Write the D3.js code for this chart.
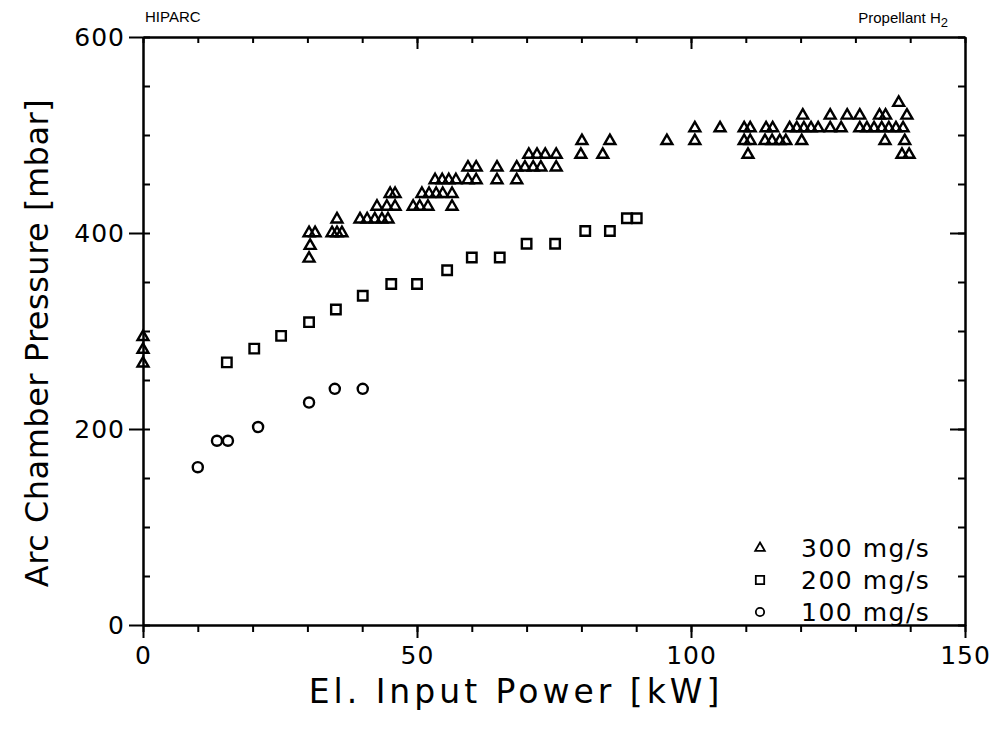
<!DOCTYPE html>
<html>
<head>
<meta charset="utf-8">
<script src="https://cdn.jsdelivr.net/npm/d3@7"></script>
<style>
  body { margin: 0; background: #fff; }
  svg { display: block; }
  text { font-family: "DejaVu Sans", sans-serif; fill: #000; }
</style>
</head>
<body>
<div id="chart"></div>
<script>
// measured data: [power kW, pressure mbar]
const flow300 = [
  [0, 295], [0, 282], [0, 268],
  [30.3, 375], [30.5, 388], [30.3, 401], [31.4, 401], [34.5, 401], [35.4, 401], [36.3, 401],
  [35.4, 415], [39.6, 415], [40.9, 415], [42.3, 415], [43.6, 415], [44.7, 415],
  [42.7, 428], [44.5, 428], [46.0, 428], [49.3, 428], [50.5, 428], [52.0, 428], [56.4, 428],
  [45.1, 441], [46.0, 441], [50.9, 441], [52.2, 441], [53.5, 441], [54.7, 441], [56.4, 441],
  [53.3, 455], [54.6, 455], [55.8, 455], [57.1, 455], [59.3, 455], [60.8, 455], [64.6, 455], [68.2, 455],
  [59.3, 468], [60.8, 468], [64.6, 468], [68.2, 468], [69.7, 468], [71.2, 468], [72.6, 468], [75.4, 468],
  [70.4, 481], [71.9, 481], [73.4, 481], [75.4, 481], [79.9, 481], [83.9, 481], [110.4, 481], [138.5, 481], [139.8, 481],
  [80.1, 495], [85.2, 495], [95.6, 495], [100.7, 495], [109.7, 495], [110.8, 495], [113.5, 495], [114.8, 495],
  [116.2, 495], [117.3, 495], [120.2, 495], [135.4, 495], [139.0, 495],
  [100.7, 508], [105.3, 508], [109.7, 508], [110.8, 508], [113.7, 508], [114.9, 508], [118.0, 508], [119.3, 508],
  [120.6, 508], [121.9, 508], [123.2, 508], [125.4, 508], [127.4, 508], [130.8, 508], [132.1, 508], [133.4, 508],
  [134.8, 508], [136.1, 508], [137.4, 508], [138.7, 508],
  [120.4, 521], [125.4, 521], [128.5, 521], [130.8, 521], [134.4, 521], [135.5, 521], [139.4, 521],
  [137.9, 534]
];
const flow200 = [
  [15.3, 268], [20.3, 282], [25.2, 295], [30.3, 309], [35.2, 322], [40.1, 336], [45.3, 348], [50, 348],
  [55.5, 362], [60, 375], [65.1, 375], [70, 389], [75.2, 389], [80.7, 402], [85.2, 402], [88.3, 415], [90.1, 415]
];
const flow100 = [
  [10, 161], [13.5, 188], [15.5, 188], [21, 202], [30.3, 227], [35, 241], [40.1, 241]
];
const legendLabels = ["300 mg/s", "200 mg/s", "100 mg/s"];
const xMajor = [0, 50, 100, 150];
const xMinor = d3.range(0, 151, 10);
const yMajor = [0, 200, 400, 600];
const yMinor = d3.range(0, 601, 50);

const width = 994, height = 730;
const plotLeft = 143, plotRight = 965, plotTop = 37, plotBottom = 625;

const svg = d3.select("#chart").append("svg")
    .attr("width", width)
    .attr("height", height);

const x = d3.scaleLinear().domain([0, 150]).range([plotLeft, plotRight]);
const y = d3.scaleLinear().domain([0, 600]).range([plotBottom, plotTop]);

function styleAxis(g) {
    g.select(".domain").attr("stroke", "#000").attr("stroke-width", 2);
    g.selectAll(".tick line").attr("stroke", "#000").attr("stroke-width", 2);
    g.selectAll(".tick text").style("font-size", "25px").style("letter-spacing", "1px").attr("fill", "#000");
}

// top axis, ticks pointing down into the plot
svg.append("g").attr("transform", "translate(0," + plotTop + ")")
    .call(d3.axisBottom(x).tickValues(xMinor).tickSize(6).tickFormat("").tickSizeOuter(0))
    .call(styleAxis);
svg.append("g").attr("transform", "translate(0," + plotTop + ")")
    .call(d3.axisBottom(x).tickValues([50, 100]).tickSize(12).tickFormat("").tickSizeOuter(0))
    .call(styleAxis);

// bottom axis
svg.append("g").attr("transform", "translate(0," + plotBottom + ")")
    .call(d3.axisBottom(x).tickValues(xMinor).tickSize(7).tickFormat("").tickSizeOuter(0))
    .call(styleAxis);
svg.append("g").attr("transform", "translate(0," + plotBottom + ")")
    .call(d3.axisBottom(x).tickValues(xMajor).tickSize(13).tickPadding(8).tickSizeOuter(0))
    .call(styleAxis);

// left axis: minor ticks inside, major ticks outside with labels
svg.append("g").attr("transform", "translate(" + plotLeft + ",0)")
    .call(d3.axisRight(y).tickValues(yMinor).tickSize(7).tickFormat("").tickSizeOuter(0))
    .call(styleAxis);
svg.append("g").attr("transform", "translate(" + plotLeft + ",0)")
    .call(d3.axisLeft(y).tickValues(yMajor).tickSize(14).tickPadding(4).tickSizeOuter(0))
    .call(styleAxis);

// right axis
svg.append("g").attr("transform", "translate(" + plotRight + ",0)")
    .call(d3.axisLeft(y).tickValues(yMinor).tickSize(7).tickFormat("").tickSizeOuter(0))
    .call(styleAxis);
svg.append("g").attr("transform", "translate(" + plotRight + ",0)")
    .call(d3.axisLeft(y).tickValues([200, 400]).tickSize(15).tickFormat("").tickSizeOuter(0))
    .call(styleAxis);

// markers
const sym = {
    tri: d3.symbol().type(d3.symbolTriangle).size(52),
    sq: d3.symbol().type(d3.symbolSquare).size(90),
    circ: d3.symbol().type(d3.symbolCircle).size(80)
};

function plotSeries(data, shape, dy) {
    svg.append("g").selectAll("path")
        .data(data)
        .enter()
        .append("path")
        .attr("d", sym[shape])
        .attr("transform", d => "translate(" + x(d[0]) + "," + (y(d[1]) + dy) + ")")
        .attr("fill", "none")
        .attr("stroke", "#000")
        .attr("stroke-width", 2.4);
}
plotSeries(flow300, "tri", 1);
plotSeries(flow200, "sq", 0);
plotSeries(flow100, "circ", 0);

// legend
const legend = svg.append("g");
legendLabels.forEach((lab, i) => {
    const ly = 548 + i * 32;
    legend.append("path")
        .attr("d", d3.symbol().type([d3.symbolTriangle, d3.symbolSquare, d3.symbolCircle][i]).size([40, 70, 55][i]))
        .attr("transform", "translate(760," + ly + ")")
        .attr("fill", "none").attr("stroke", "#000").attr("stroke-width", 1.8);
    legend.append("text")
        .attr("x", 801).attr("y", ly + 9)
        .style("font-size", "25px")
        .style("letter-spacing", "1.5px")
        .text(lab);
});

// axis titles
svg.append("text")
    .attr("x", 516).attr("y", 703)
    .attr("text-anchor", "middle")
    .style("font-size", "33px")
    .style("letter-spacing", "4px")
    .text("El. Input Power [kW]");

svg.append("text")
    .attr("transform", "translate(48,343)rotate(-90)")
    .attr("text-anchor", "middle")
    .style("font-size", "32px")
    .style("letter-spacing", "0.5px")
    .text("Arc Chamber Pressure [mbar]");

// corner labels
svg.append("text")
    .attr("x", 145).attr("y", 22)
    .style("font-family", "Liberation Sans, sans-serif")
    .style("font-size", "15px")
    .text("HIPARC");

const prop = svg.append("text")
    .attr("x", 948).attr("y", 23)
    .attr("text-anchor", "end")
    .style("font-family", "Liberation Sans, sans-serif")
    .style("font-size", "15px")
    .text("Propellant H");
prop.append("tspan").attr("dy", 4).style("font-size", "13px").text("2");
</script>
</body>
</html>
